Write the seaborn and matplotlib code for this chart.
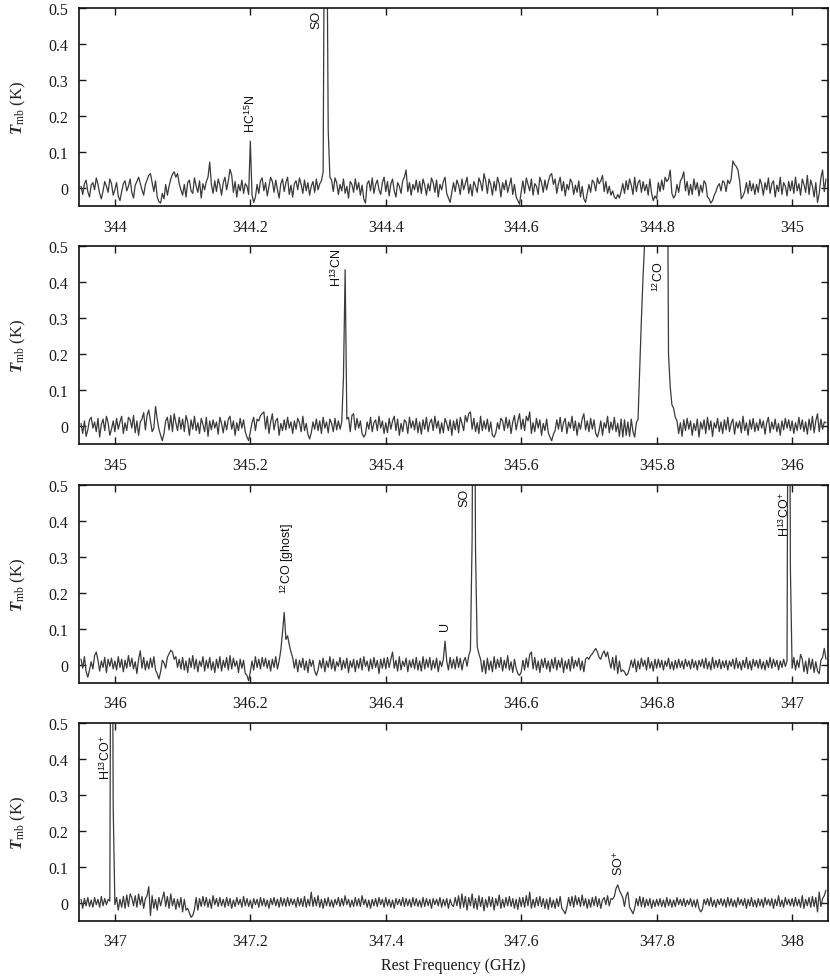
import numpy as np
import pandas as pd
import matplotlib
matplotlib.use("Agg")
import matplotlib.pyplot as plt
from matplotlib.ticker import MultipleLocator, FuncFormatter
import seaborn as sns

# ---------------- data (main-beam temperature in mK, one value per channel) ----------------
channel_width_ghz = 0.0025
panel_start_ghz = [343.95, 344.95, 345.95, 346.95]

# each row below = 20 channels = 0.05 GHz
tmb_panel1_mk = [
    5, -18, 12, 22, -10, -25, 8, 15, -5, 28, 10, -15, -30, -8, 18, 5, -12, 25, 12, -20,
    -5, 15, -22, -35, -10, 12, 20, -8, 5, 25, -12, -28, 8, 18, 30, 12, -5, -20, 10, 22,
    35, 40, 15, -10, 20, -25, -38, -42, -15, -30, 10, -20, 5, 25, 38, 45, 30, 40, 12, -5,
    -20, 10, -25, 15, 22, -8, -15, 28, 5, -12, 20, -28, 12, -5, 18, 30, 72, 10, -15, 20,
    -10, 25, 8, -20, 15, 30, -5, 20, 52, 35, -12, 18, -25, 10, -8, 22, -15, 12, 5, -18,
    130, -20, -40, -25, 10, -15, 20, 28, -8, 15, -22, 5, 30, 18, -12, 22, -5, -28, 12, 25,
    -10, 15, 30, -18, 8, -25, 12, 20, -5, 28, 10, -15, 22, -8, 15, -20, 5, 18, -12, 25,
    -5, 12, 20, 45, 1050, 900, 160, 30, 22, -10, 28, 15, -18, 10, -8, 25, -15, 5, -28, 18,
    10, -12, 25, -5, 15, -20, 8, -30, -42, 12, 20, -8, 28, -15, 10, 22, -5, -18, 15, 30,
    -10, 18, -22, 12, 25, -8, -25, 15, 5, -15, 20, 30, 50, -10, 15, -20, 10, -5, 22, -12,
    18, -15, 25, 8, -20, 12, -8, 28, 15, -12, 22, -25, 10, -5, 18, 30, -15, -28, -40, -12,
    15, -10, 22, 8, -18, 25, -5, 12, 30, -15, 10, -22, 18, 5, -12, 28, 15, -8, 40, 20,
    -15, 25, 10, -20, 18, -8, 30, 12, -25, 15, -5, 22, -12, 8, 28, -18, 10, -25, -35, -45,
    -10, 20, -15, 28, 10, -8, 25, -20, 12, 5, -18, 30, 15, -12, 22, -5, 18, 35, 40, 10,
    25, -15, 12, 30, -8, 18, -22, 10, -5, 25, 15, -18, 8, -12, 20, -25, 5, -30, -40, -15,
    10, -12, 22, 15, -8, 28, 12, 20, 35, -10, 18, -15, 5, -20, -8, -25, -30, -18, -28, -10,
    12, -15, 20, -5, 25, 8, -18, 30, -10, 15, 22, -12, 18, -8, 10, -20, 25, -15, -35, -22,
    -30, 15, -10, 22, -5, 30, 18, 25, 50, -15, -28, -20, 10, -12, 20, 28, 45, -8, 18, -20,
    10, -18, 25, -5, 15, -22, 8, -12, 20, 12, -25, -30, -42, -35, -20, -10, 5, 12, -8, 20,
    15, -10, 22, 12, 25, 75, 65, 60, 50, 20, -30, -22, -10, 15, -15, 20, -8, 12, -18, 10,
    -12, 25, 10, -20, 15, -5, 28, -15, 12, 20, -25, 8, -10, 30, -18, 15, 5, -22, 18, -8,
    20, -15, 30, -8, 12, -20, 25, 10, -12, 35, -18, 22, 5, -25, 15, -40, -15, 28, 50, -10,
    25,
]

tmb_panel2_mk = [
    8, -20, 15, -28, -10, 18, 25, -5, 12, -15, 22, -30, 5, 20, -12, 28, 10, -25, -8, 15,
    -15, 22, -8, 12, 28, -20, 10, -12, 25, 18, -5, 30, -18, 15, -25, 12, 20, 38, -10, 30,
    45, 15, -15, -5, 55, 20, -8, -25, -40, -20, 15, 25, -10, 30, -15, 35, 10, -12, 25, -8,
    20, -15, 30, 12, -25, 18, -8, 28, -12, 10, -20, 22, 5, -15, 25, -28, 15, -10, 18, -5,
    12, -22, 25, 8, -18, 15, -10, 20, 28, -8, 15, -25, 10, -12, 22, -5, 18, -15, -30, -40,
    -15, 10, 25, -12, 20, 15, 30, 35, 40, -8, 28, -20, 12, 35, -10, 15, 22, -25, 8, -12,
    18, -10, 25, -5, 12, -20, 15, -8, 22, 10, -15, 28, -12, 8, -22, -35, -18, 12, -8, 20,
    -12, 15, -20, 25, -5, 12, -18, 20, 8, -15, 22, -10, 15, -8, 12, 135, 435, 20, 25, -15,
    30, 35, -10, 22, -5, 15, -20, -30, -22, 12, -8, 25, -15, 10, 18, -12, 28, -5, 15, -20,
    10, -18, 22, -8, 15, 28, -12, 20, -25, 8, -15, 18, 12, -20, 25, -5, 15, -10, 22, -18,
    12, -22, 18, -8, 25, -15, 10, 20, -12, 28, -5, 15, -20, 10, -18, 22, 8, -12, 18, -25,
    15, -10, 20, -18, 25, 8, -12, 30, 12, 35, 40, -8, 22, -15, 10, -20, 28, -12, 15, -8,
    20, -15, 12, -25, -30, -18, 10, -8, 22, 15, -12, 25, -5, 18, -20, 12, 30, -10, 15, 35,
    -8, 20, -12, 28, 15, 40, -20, 10, -15, 22, -5, 18, -25, 8, -12, 20, -18, -30, -40, -22,
    -12, 18, -8, 25, -15, 10, 22, -20, 12, -5, 28, -12, 15, -25, 10, -8, 20, 35, -10, 15,
    -15, 22, -8, 18, -20, -30, -12, 15, -25, 10, -5, 28, -18, 12, -10, 25, -15, 8, -28, 20,
    -30, 18, -25, 12, -28, 20, -15, -30, 10, 20, 160, 300, 420, 520, 1200, 2000, 2800, 3300, 3600, 3700,
    3800, 3700, 3500, 3200, 2700, 2000, 1100, 200, 110, 60, 50, 25, 15, -20, 10, -28, 18, -12, 22, -8,
    15, -25, 8, -12, 20, -30, 12, -8, 18, -20, 25, -10, 15, -28, 10, -5, 22, -15, 12, -20,
    18, -10, 25, -15, 8, 20, -22, 12, -5, 15, -18, 28, -12, 10, -25, 18, -8, 22, -15, 10,
    -12, 20, -5, 15, -22, 10, 25, -18, 12, -8, 20, -15, 8, -25, 15, -10, 22, -5, 18, -12,
    15, -20, 10, -12, 25, -8, 18, -15, 12, -22, 20, -10, 28, -18, 15, 35, -15, 20, -8, 12,
    10,
]

tmb_panel3_mk = [
    15, -10, 22, -20, -35, -15, 8, -12, 25, 35, 12, -18, 10, -8, 20, -22, 15, -5, 18, -12,
    10, -15, 22, -8, 15, -20, 12, -10, 25, -5, 18, -12, 8, -25, 15, 38, -10, 20, -15, 10,
    -12, 18, -8, 22, -15, -25, -40, -20, 12, 5, -10, 20, 30, 40, 35, 15, 22, -8, 15, -12,
    20, -15, 10, -22, 18, -8, 25, -12, 15, -20, 10, -5, 22, -18, 12, -10, 20, -15, 8, -22,
    15, -10, 22, -18, 12, -8, 20, -15, 25, -12, 18, -5, 10, -22, 15, -10, 12, -25, -30, -45,
    -20, 10, -15, 22, -8, 15, -12, 20, -5, 18, -10, 12, -18, 15, -8, 22, -12, 10, 40, 90,
    145, 70, 80, 55, 35, 20, -10, 15, -20, 12, -8, 18, -15, 10, -22, 15, -5, 12, -18, -30,
    -15, 12, -10, 18, -20, 10, -8, 22, -12, 15, -18, 8, -5, 20, -15, 12, -10, 18, -22, 10,
    -8, 15, -20, 12, -10, 18, -15, 22, -5, 10, -18, 15, -12, 20, -8, 12, -25, 15, -10, 18,
    -12, 20, -8, 15, 35, -10, 12, -18, 22, -15, 10, -5, 18, -20, 12, -8, 15, -12, 20, -15,
    10, -18, 22, -12, 15, -8, 20, -15, 12, -10, 18, -20, 10, -5, 15, 65, 10, -15, 20, -10,
    15, -12, 22, -8, 18, -15, 10, 20, -5, 25, 40, 350, 1400, 320, 50, 30, 15, -20, 12, -25,
    18, -15, 10, -20, 22, -12, 15, -8, 20, -18, 12, -10, 25, -15, 8, -22, 15, -10, -25, -30,
    -20, 12, -15, 18, -8, 28, 35, -12, 20, -15, 10, -22, 15, -8, 18, -12, 10, -20, 15, -10,
    20, -15, 12, -8, 18, -22, 10, -12, 15, -18, 22, -10, 12, -5, 18, -15, 10, -20, 15, 20,
    15, 25, 30, 38, 45, 35, 20, 15, 30, 38, 22, 35, 10, -10, 20, -15, 25, -25, 10, -20,
    -15, -20, -30, -25, -10, 12, -8, 15, -20, 10, -12, 18, -5, 12, -15, 20, -10, 8, -18, 15,
    -10, 15, -8, 12, -15, 10, -5, 18, -12, 8, -15, 12, -10, 15, -8, 10, -12, 15, -5, 10,
    -12, 15, -8, 10, -15, 12, -5, 15, -10, 18, -12, 8, -15, 20, -10, 12, -8, 15, -12, 10,
    -8, 12, -15, 10, -5, 15, -12, 18, -10, 8, -15, 12, -8, 20, -12, 10, -15, 15, -5, 12,
    -10, 15, -12, 8, -15, 12, -8, 20, -10, 15, -5, 12, -15, 10, -8, 15, -5, 10, 1500, 265,
    -10, 20, -15, 12, -8, 28, 15, -20, 10, -25, 18, -12, 15, -22, 8, -18, -25, 12, 20, 45,
    15,
]

tmb_panel4_mk = [
    10, -15, 12, -8, 15, -10, 8, -12, 15, -5, 10, -12, 18, -8, 12, -5, 10, 5, 1500, 265,
    -5, 15, -20, 10, -12, 18, -15, 22, -10, 25, 15, -8, 20, -12, 25, -5, 18, -15, 12, 20,
    45, -35, 20, -15, 10, -20, 15, -8, 12, 30, -10, 18, -15, 25, -8, 12, -18, 10, -12, 15,
    -25, 10, -20, -15, -28, -40, -35, -18, 15, -20, 12, -10, 18, -8, 15, -12, 10, -15, 20, -5,
    12, -10, 15, -8, 10, -12, 15, -8, 12, -15, 8, -10, 15, -5, 10, -12, 18, -8, 12, -10,
    8, -15, 12, -5, 10, -12, 15, -8, 12, -10, 8, -15, 12, -5, 15, -8, 10, -12, 15, -8,
    12, -10, 15, -8, 12, -5, 10, -12, 15, -8, 12, -10, 18, -12, 10, -8, 30, -10, 15, -8,
    20, -12, 10, -15, 12, -8, 15, -10, 8, -12, 10, -5, 15, -10, 12, -8, 20, -5, 10, -12,
    8, -10, 15, -8, 12, -10, 20, -5, 10, -12, 8, -15, 10, -8, 12, -10, 15, -5, 10, -12,
    15, -8, 10, -12, 8, -15, 12, -5, 10, -8, 15, -10, 12, -8, 10, -12, 15, -8, 12, -10,
    8, -12, 15, -10, 12, -8, 10, -15, 12, -5, 10, -8, 15, -12, 10, -8, 12, -15, 10, -5,
    -10, 15, -8, 20, -15, 25, -12, 18, -20, 15, -8, 25, -15, 12, -18, 20, -10, 15, -22, 10,
    -12, 18, -10, 15, -20, 12, -8, 22, -15, 10, -12, 15, -8, 18, -10, 12, -15, 10, -18, 15,
    -10, 15, -12, 20, -8, 30, -15, 10, -12, 15, -8, 18, -10, 12, -15, 10, -18, 15, -12, 8,
    -15, 12, -10, 18, -15, -22, -30, -12, 15, -8, 18, -12, 20, -5, 15, -10, 22, -8, 12, -15,
    10, -12, 15, -8, 18, -10, 12, -15, 8, 15, -5, 20, -8, 12, 10, 18, 40, 50, 35, 25,
    15, -10, 20, 30, -12, -20, -30, -15, 12, -8, 18, -10, 15, -12, 10, -8, 12, -15, 8, -10,
    10, -8, 12, -10, 8, -12, 15, -8, 10, -12, 8, -10, 15, -5, 10, -8, 12, -10, 8, -5,
    12, -10, 8, -12, 10, -15, -25, -18, 10, -5, 12, -8, 15, -10, 8, -12, 10, -5, 12, -8,
    10, -12, 15, -8, 12, -10, 8, -12, 15, -5, 10, -8, 12, -15, 10, -8, 15, -10, 8, -12,
    12, -8, 10, -12, 15, -5, 10, -8, 12, -15, 10, -8, 20, -10, 8, -12, 15, -5, 10, -8,
    12, -10, 15, -8, 10, -12, 20, -15, 10, -8, 15, -12, 18, -10, 15, -25, 30, -10, 12, 20,
    35,
]

# line identifications: (text, frequency GHz, temperature K of label anchor, anchor)
panel1_labels = [("HC$^{\\mathsf{15}}$N", 344.200, 0.155, "bottom"), ("SO", 344.298, 0.495, "top")]
panel2_labels = [("H$^{\\mathsf{13}}$CN", 345.327, 0.495, "top"), ("$^{\\mathsf{12}}$CO", 345.803, 0.377, "bottom")]
panel3_labels = [("$^{\\mathsf{12}}$CO [ghost]", 346.255, 0.200, "bottom"), ("U", 346.487, 0.095, "bottom"),
                 ("SO", 346.516, 0.492, "top"), ("H$^{\\mathsf{13}}$CO$^{\\mathsf{+}}$", 346.989, 0.482, "top")]
panel4_labels = [("H$^{\\mathsf{13}}$CO$^{\\mathsf{+}}$", 346.986, 0.468, "top"), ("SO$^{\\mathsf{+}}$", 347.744, 0.077, "bottom")]

panel_series = [tmb_panel1_mk, tmb_panel2_mk, tmb_panel3_mk, tmb_panel4_mk]
panel_labels = [panel1_labels, panel2_labels, panel3_labels, panel4_labels]

# ---------------- style ----------------
sns.set_theme(style="ticks")
plt.rcParams["font.family"] = ["Liberation Serif", "DejaVu Serif"]
plt.rcParams["mathtext.fontset"] = "custom"
plt.rcParams["mathtext.rm"] = "Liberation Serif"
plt.rcParams["mathtext.it"] = "Liberation Serif:italic"
plt.rcParams["mathtext.bf"] = "Liberation Serif:bold"
plt.rcParams["mathtext.bfit"] = "Liberation Serif:bold:italic"
plt.rcParams["mathtext.sf"] = "Liberation Sans"

W, H = 830, 978
fig = plt.figure(figsize=(W / 100, H / 100), dpi=100)

left_px, width_px = 79, 749
height_px = 198
for i in range(4):
    top_px = 9 + 238.3 * i
    ax = fig.add_axes([left_px / W, 1 - (top_px + height_px) / H, width_px / W, height_px / H])
    vals = np.asarray(panel_series[i], dtype=float) / 1000.0
    freq = panel_start_ghz[i] + channel_width_ghz * np.arange(len(vals))
    df = pd.DataFrame({"freq": freq, "tmb": vals})
    sns.lineplot(data=df, x="freq", y="tmb", ax=ax, color="#3a3a3a", lw=0.9,
                 estimator=None, sort=False)
    ax.set_xlim(panel_start_ghz[i] - 0.003, panel_start_ghz[i] + 1.103)
    ax.set_ylim(-0.05, 0.5)
    ax.xaxis.set_major_locator(MultipleLocator(0.2))
    ax.yaxis.set_major_locator(MultipleLocator(0.1))
    ax.xaxis.set_major_formatter(FuncFormatter(lambda v, p: f"{v:g}"))
    ax.yaxis.set_major_formatter(FuncFormatter(lambda v, p: f"{v:g}"))
    ax.tick_params(direction="in", length=5, width=1.0, top=True, right=True,
                   labelsize=11.5, colors="#1a1a1a")
    ax.tick_params(axis="x", pad=9)
    ax.tick_params(axis="y", pad=8)
    for s in ax.spines.values():
        s.set_linewidth(1.2)
        s.set_color("#111111")
    ax.set_xlabel("")
    ax.set_ylabel(r"$\boldsymbol{T}_{\mathrm{mb}}$ (K)", fontsize=12)
    ax.yaxis.set_label_coords(-0.068, 0.5)
    for text, f, t, va in panel_labels[i]:
        ax.text(f, t, text, rotation=90, ha="center", va=va, fontsize=9,
                family=["Liberation Sans", "DejaVu Sans"], color="#111111")

fig.text(453 / W, 1 - 966 / H, "Rest Frequency (GHz)", ha="center", va="center",
         fontsize=11.5, color="#1a1a1a")

fig.savefig("out.png", dpi=100)
